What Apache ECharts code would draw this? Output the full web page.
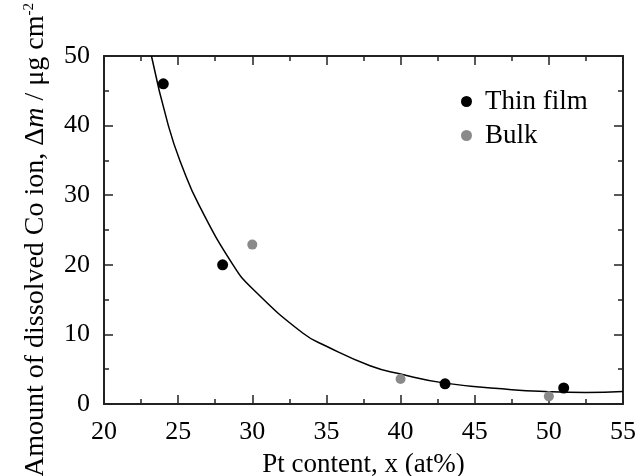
<!DOCTYPE html>
<html>
<head>
<meta charset="utf-8">
<script src="https://cdn.jsdelivr.net/npm/echarts@6/dist/echarts.min.js"></script>
<style>
  html, body { margin: 0; padding: 0; background: #fff; }
  #chart { width: 639px; height: 476px; }
</style>
</head>
<body>
<div id="chart"></div>
<script>
  // data
  let thinFilm = [[24, 46], [28, 20], [43, 2.9], [51, 2.3]]
  let bulk = [[30, 22.9], [40, 3.6], [50, 1.1]]
  // fitted curve, points
  let fitCurve = [
    [23.2, 50], [24.34, 40], [25.35, 33.7], [26.4, 28.6], [28.7, 20],
    [30, 16.6], [33.4, 10.2], [35, 8.3], [37.94, 5.5], [40, 4.3],
    [43, 3.0], [47.5, 2.05], [50, 1.77], [52.5, 1.67], [55, 1.81]
  ]
  let xTicks = [20, 55, 5]
  let yTicks = [0, 50, 10]

  let font = 'Liberation Serif'
  let axisColor = '#222'

  let myChart = echarts.init(document.getElementById('chart'))

  let commonX = {
    type: 'value',
    min: xTicks[0],
    max: xTicks[1],
    interval: xTicks[2],
    axisLine: { show: true, onZero: false, lineStyle: { color: axisColor, width: 2 } },
    axisTick: { show: true, inside: true, length: 9, lineStyle: { color: axisColor, width: 1.5 } },
    minorTick: { show: true, splitNumber: 2, length: 5, lineStyle: { color: axisColor, width: 1.5 } },
    splitLine: { show: false }
  }
  let commonY = {
    type: 'value',
    min: yTicks[0],
    max: yTicks[1],
    interval: yTicks[2],
    axisLine: { show: true, onZero: false, lineStyle: { color: axisColor, width: 2 } },
    axisTick: { show: true, inside: true, length: 9, lineStyle: { color: axisColor, width: 1.5 } },
    minorTick: { show: true, splitNumber: 2, length: 5, lineStyle: { color: axisColor, width: 1.5 } },
    splitLine: { show: false }
  }

  let option = {
    animation: false,
    backgroundColor: '#fff',
    textStyle: { fontFamily: font },
    grid: { left: 104, top: 56, right: 16, bottom: 72, containLabel: false, outerBoundsMode: 'none' },
    legend: {
      orient: 'vertical',
      left: 456,
      top: 83,
      icon: 'circle',
      itemWidth: 11,
      itemHeight: 11,
      itemGap: 7,
      data: ['Thin film', 'Bulk'],
      textStyle: { fontFamily: font, fontSize: 27, color: '#000', lineHeight: 27, padding: [0, 0, 0, 8] }
    },
    xAxis: [
      Object.assign({}, commonX, {
        position: 'bottom',
        name: 'Pt content, x (at%)',
        nameLocation: 'middle',
        nameGap: 47,
        nameTextStyle: { fontFamily: font, fontSize: 27, color: '#000' },
        axisLabel: { fontFamily: font, fontSize: 26, color: '#000', margin: 15 }
      }),
      Object.assign({}, commonX, {
        position: 'top',
        axisLabel: { show: false }
      })
    ],
    yAxis: [
      Object.assign({}, commonY, {
        position: 'left',
        name: '{n|Amount of dissolved Co ion, Δ}{i|m}{n| / μg cm}{s|-2}',
        nameLocation: 'middle',
        nameGap: 54,
        nameRotate: 90,
        nameTextStyle: {
          fontFamily: font, fontSize: 28, color: '#000',
          padding: [0, 20, 0, 0],
          rich: {
            n: { fontFamily: font, fontSize: 28, color: '#000' },
            i: { fontFamily: font, fontSize: 28, fontStyle: 'italic', color: '#000' },
            s: { fontFamily: font, fontSize: 15, color: '#000', verticalAlign: 'top' }
          }
        },
        axisLabel: { fontFamily: font, fontSize: 26, color: '#000', margin: 14 }
      }),
      Object.assign({}, commonY, {
        position: 'right',
        axisLabel: { show: false }
      })
    ],
    series: [
      {
        name: 'fit',
        type: 'line',
        data: fitCurve,
        smooth: true,
        showSymbol: false,
        symbol: 'none',
        lineStyle: { color: '#000', width: 1.5 },
        silent: true,
        z: 1
      },
      {
        name: 'Thin film',
        type: 'scatter',
        data: thinFilm,
        symbol: 'circle',
        symbolSize: 11,
        itemStyle: { color: '#000', opacity: 1 },
        z: 3
      },
      {
        name: 'Bulk',
        type: 'scatter',
        data: bulk,
        symbol: 'circle',
        symbolSize: 10,
        itemStyle: { color: '#8a8a8a', opacity: 1 },
        z: 2
      }
    ]
  }
  myChart.setOption(option)
</script>
</body>
</html>
